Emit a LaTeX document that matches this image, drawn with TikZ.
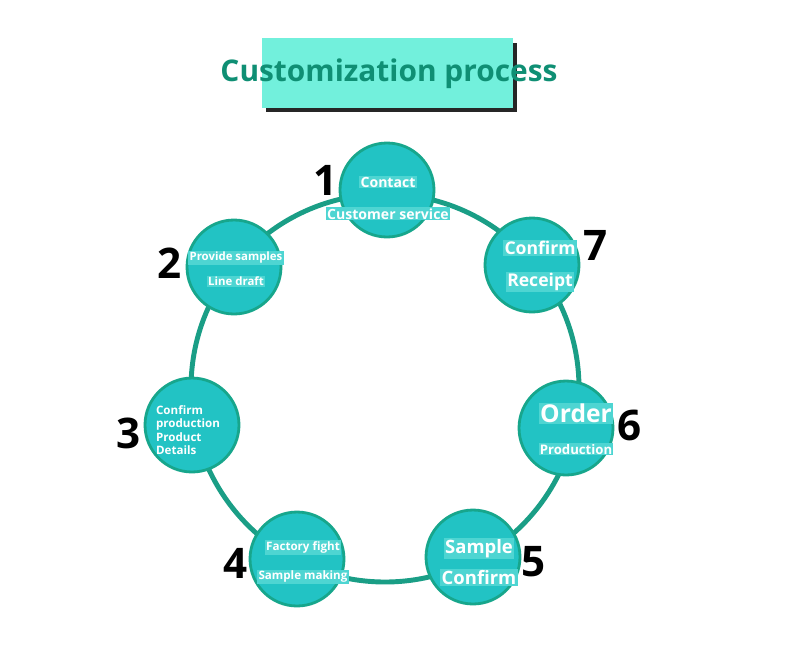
\documentclass[tikz,border=0pt]{standalone}
\usepackage{fontspec}
\setmainfont{Open Sans}
\usepackage{tikz}
\usepackage{xcolor}
\definecolor{ringteal}{HTML}{1A9E86}
\definecolor{ballfill}{HTML}{22C3C4}
\definecolor{balledge}{HTML}{17A68C}
\definecolor{titlefill}{HTML}{72F0DC}
\definecolor{titletext}{HTML}{0F8F74}
\definecolor{glowcyan}{HTML}{4ED5D2}
\newcommand{\lit}[1]{{\setlength{\fboxsep}{0.7pt}\colorbox{glowcyan}{#1}}}

\begin{document}
\begin{tikzpicture}[x=0.02cm,y=-0.02cm,
    ball/.style={circle,fill=ballfill,draw=balledge,line width=1.6pt,minimum size=1.88cm,inner sep=0pt},
    steptext/.style={text=white,align=center,inner sep=0pt},
    num/.style={font=\bfseries\fontsize{24}{24}\selectfont,inner sep=0pt}]
    \useasboundingbox (0,0) rectangle (790,660);
    \fill[white] (0,0) rectangle (790,660);

    % title
    \fill[black!85] (266,43) rectangle (517,112);
    \fill[titlefill] (262,38) rectangle (513,108);
    \node[text=titletext,font=\bfseries\fontsize{17}{17}\selectfont] (title) at (389,74) {Customization process};

    % ring
    \draw[ringteal,line width=2.8pt] (385,388) circle (194);

    % steps
    \node[ball] (s1) at (387,190) {};
    \node[ball] (s2) at (234,267) {};
    \node[ball] (s3) at (192,425) {};
    \node[ball] (s4) at (297,559) {};
    \node[ball] (s5) at (473,557) {};
    \node[ball] (s6) at (566,428) {};
    \node[ball] (s7) at (532,265) {};

    \node[steptext,font=\bfseries\fontsize{8}{18.2}\selectfont] (t1) at (388,198) {\lit{Contact}\\\lit{Customer service}};
    \node[steptext,font=\bfseries\fontsize{6.5}{14}\selectfont] (t2) at (236,269) {\lit{Provide samples}\\\lit{Line draft}};
    \node[steptext,align=left,font=\bfseries\fontsize{6.6}{7.7}\selectfont] (t3) at (188,430) {Confirm\\production\\Product\\Details};
    \node[steptext,font=\bfseries\fontsize{6.6}{16.5}\selectfont] (t4) at (303,562) {\lit{Factory fight}\\\lit{Sample making}};
    \node[steptext,font=\bfseries\fontsize{10.5}{17.5}\selectfont] (t5) at (479,562) {\lit{Sample}\\\lit{Confirm}};
    \node[steptext,font=\bfseries\fontsize{7.5}{18}\selectfont] (t6) at (576,429) {{\fontsize{14}{14}\selectfont\lit{Order}}\\\lit{Production}};
    \node[steptext,font=\bfseries\fontsize{10}{18}\selectfont] (t7) at (540,266) {\lit{Confirm}\\\lit{Receipt}};

    % numbers
    \node[num] (n1) at (326,180) {1};
    \node[num] (n2) at (170,263) {2};
    \node[num] (n3) at (129,433) {3};
    \node[num] (n4) at (236,563) {4};
    \node[num] (n5) at (534,562) {5};
    \node[num] (n6) at (630,425) {6};
    \node[num] (n7) at (596,245) {7};
\end{tikzpicture}
\end{document}
